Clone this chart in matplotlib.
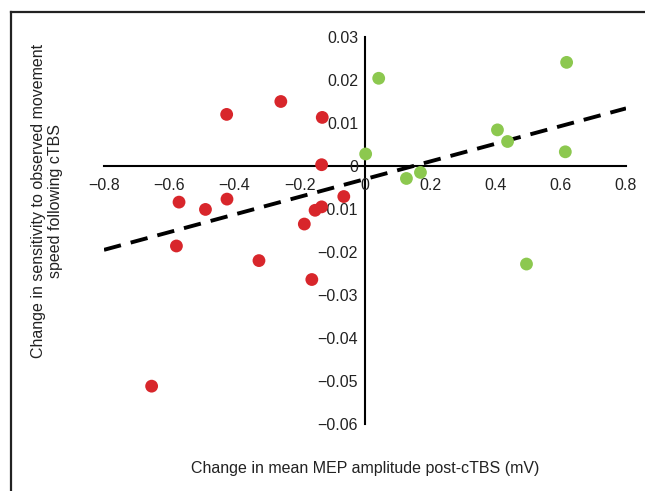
import matplotlib
matplotlib.use("Agg")
import matplotlib.pyplot as plt
import numpy as np
from matplotlib.lines import Line2D

plt.rcParams["font.family"] = ["Liberation Sans", "DejaVu Sans"]

# change in MEP amplitude (mV) vs change in sensitivity, split by sign of MEP change
red_x = [-0.424, -0.258, -0.131, -0.133, -0.570, -0.489, -0.423, -0.065,
         -0.133, -0.153, -0.186, -0.578, -0.325, -0.163, -0.654]
red_y = [0.0120, 0.0150, 0.0113, 0.0003, -0.0084, -0.0101, -0.0077, -0.0071,
         -0.0095, -0.0103, -0.0135, -0.0186, -0.0220, -0.0264, -0.0512]
green_x = [0.042, 0.002, 0.127, 0.170, 0.406, 0.437, 0.618, 0.614, 0.495]
green_y = [0.0204, 0.0028, -0.0029, -0.0015, 0.0084, 0.0057, 0.0241, 0.0033, -0.0228]

# regression line (slope, intercept) over the x range shown
fit_slope, fit_intercept = 0.02056, -0.00305
fit_range = [-0.8, 0.8]

x_ticks = [-0.8, -0.6, -0.4, -0.2, 0, 0.2, 0.4, 0.6, 0.8]
x_tick_labels = ["\u22120.8", "\u22120.6", "\u22120.4", "\u22120.2", "0", "0.2", "0.4", "0.6", "0.8"]
y_ticks = [-0.06, -0.05, -0.04, -0.03, -0.02, -0.01, 0, 0.01, 0.02, 0.03]
y_tick_labels = ["\u22120.06", "\u22120.05", "\u22120.04", "\u22120.03", "\u22120.02",
                 "\u22120.01", "0", "0.01", "0.02", "0.03"]

fig = plt.figure(figsize=(6.45, 4.91), dpi=100)
ax = fig.add_axes([104 / 645, 1 - 424 / 491, 522 / 645, 387 / 491])
ax.set_xlim(-0.8, 0.8)
ax.set_ylim(-0.06, 0.03)

for side in ("top", "right"):
    ax.spines[side].set_visible(False)
ax.spines["left"].set_position(("data", 0))
ax.spines["bottom"].set_position(("data", 0))
for side in ("left", "bottom"):
    ax.spines[side].set_linewidth(1.5)
    ax.spines[side].set_zorder(1)

ax.set_xticks(x_ticks, x_tick_labels)
ax.set_yticks(y_ticks, y_tick_labels)
ax.tick_params(axis="x", length=0, pad=9, labelsize=11.5, colors="#222222")
ax.tick_params(axis="y", length=0, pad=5, labelsize=11.5, colors="#222222")

fx = np.array(fit_range)
ax.plot(fx, fit_slope * fx + fit_intercept, ls=(0, (4.5, 2.6)), color="black",
        lw=2.8, zorder=2)

ax.scatter(red_x, red_y, s=85, color="#d8262b", edgecolors="none", zorder=4, clip_on=False)
ax.scatter(green_x, green_y, s=85, color="#8cc84f", edgecolors="none", zorder=4, clip_on=False)

fig.text(365 / 645, 1 - 468 / 491, "Change in mean MEP amplitude post-cTBS (mV)",
         ha="center", va="center", fontsize=11.5, color="#222222")
fig.text(47 / 645, 1 - 201 / 491,
         "Change in sensitivity to observed movement\nspeed following cTBS",
         ha="center", va="center", rotation=90, fontsize=11.5, color="#222222",
         linespacing=1.2)

# page frame: only left and top edges are visible in the crop
fig.add_artist(Line2D([11 / 645, 11 / 645], [0, 1 - 12 / 491], color="#222222", lw=1.6,
                      transform=fig.transFigure))
fig.add_artist(Line2D([11 / 645, 1], [1 - 12 / 491, 1 - 12 / 491], color="#222222", lw=1.6,
                      transform=fig.transFigure))

fig.savefig("out.png", dpi=100)
